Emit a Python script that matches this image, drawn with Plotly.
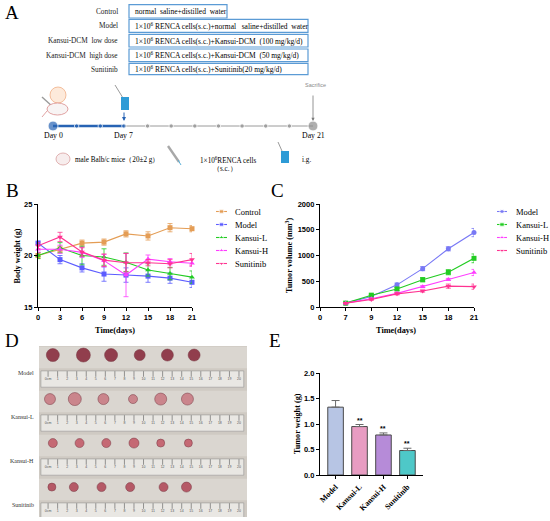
import plotly.graph_objects as go

W, H = 550, 521
SERIF = "Liberation Serif"
SANS = "Liberation Sans"

# ---------- panel A: groups and timeline
a_groups = ["Control", "Model", "Kansui-DCM  low dose", "Kansui-DCM  high dose", "Sunitinib"]
a_treat = [
    "normal  saline+distilled  water",
    "1×10<sup>6</sup> RENCA cells(s.c.)+normal \u00a0 saline+distilled  water",
    "1×10<sup>6</sup> RENCA cells(s.c.)+Kansui-DCM  (100 mg/kg/d)",
    "1×10<sup>6</sup> RENCA cells(s.c.)+Kansui-DCM  (50 mg/kg/d)",
    "1×10<sup>6</sup> RENCA cells(s.c.)+Sunitinib(20 mg/kg/d)",
]
tl_steps = list(range(12))
tl_day_labels = {0: "Day 0", 3: "Day 7", 11: "Day 21"}

# ---------- panel B: body weight (g)
b_days = [0, 3, 6, 9, 12, 15, 18, 21]
b_names = ["Control", "Model", "Kansui-L", "Kansui-H", "Sunitinib"]
b_control = [20.0, 20.6, 21.2, 21.3, 22.1, 21.9, 22.7, 22.6]
b_control_sd = [0.3, 0.3, 0.3, 0.3, 0.3, 0.4, 0.4, 0.3]
b_model = [21.2, 19.6, 18.8, 18.2, 18.1, 18.0, 17.8, 17.4]
b_model_sd = [0.2, 0.4, 0.4, 0.7, 0.7, 0.6, 0.5, 0.5]
b_kl = [20.0, 20.75, 20.0, 19.85, 19.35, 18.6, 18.25, 17.9]
b_kl_sd = [0.3, 0.5, 0.9, 0.8, 0.9, 0.6, 0.6, 0.6]
b_kh = [20.6, 20.6, 20.3, 19.5, 18.1, 19.65, 19.4, 19.25]
b_kh_sd = [0.3, 0.4, 0.5, 0.6, 2.1, 0.4, 0.3, 0.3]
b_sun = [20.95, 21.8, 20.35, 19.55, 19.3, 19.3, 19.2, 19.6]
b_sun_sd = [0.3, 0.45, 0.4, 0.6, 0.9, 0.3, 0.4, 0.6]

# ---------- panel C: tumor volume (mm3)
c_ticks = ["0", "7", "9", "12", "15", "18", "21"]
c_days = ["7", "9", "12", "15", "18", "21"]
c_names = ["Model", "Kansui-L", "Kansui-H", "Sunitinib"]
c_model = [75, 205, 430, 745, 1130, 1445]
c_model_sd = [10, 20, 35, 40, 40, 80]
c_kl = [75, 230, 350, 530, 675, 945]
c_kl_sd = [10, 20, 30, 40, 50, 85]
c_kh = [75, 160, 265, 395, 535, 670]
c_kh_sd = [10, 15, 20, 20, 20, 60]
c_sun = [75, 145, 255, 310, 405, 395]
c_sun_sd = [10, 15, 20, 20, 40, 50]

# ---------- panel D: tumour photo (positions along the ruler, cm)
d_rows = ["Model", "Kansui-L", "Kansui-H", "Sunitinib"]
d_tumor_cm = [
    [0.5, 3.7, 6.6, 9.6, 12.5, 15.3],
    [0.2, 2.8, 5.8, 8.9, 11.8, 14.6],
    [0.5, 3.3, 6.1, 9.0, 11.8, 14.7],
    [0.4, 2.7, 5.6, 8.6, 12.1, 14.5],
]
d_tumor_size = [
    [13, 14, 13, 11, 12, 12],
    [11, 13, 11, 9, 12, 12],
    [9, 9, 9, 10, 8, 8],
    [8, 9, 9, 9, 9, 10],
]
d_tumor_color = ["#8b3242", "#c97f87", "#c4606d", "#b24f5e"]
d_ruler_cm = list(range(21))

# ---------- panel E: tumor weight (g)
e_groups = ["Model", "Kansui-L", "Kansui-H", "Sunitinib"]
e_weight = [1.33, 0.95, 0.785, 0.48]
e_sd = [0.13, 0.04, 0.04, 0.045]
e_sig = ["", "**", "**", "**"]
e_colors = ["#b7c5e4", "#e89cc2", "#b68bd8", "#4ec8c8"]

b_colors = ["#e49d55", "#5c5cff", "#22cc22", "#ff3cff", "#ff3391"]
b_symbols = ["square", "square", "triangle-up", "triangle-up", "triangle-down"]
c_colors = ["#7878f5", "#22cc22", "#ff3cff", "#ff3391"]
c_symbols = ["circle", "square", "triangle-up", "triangle-down"]


def px_x(x):
    return x / W


def px_y(y):
    return 1 - y / H


fig = go.Figure()

# panel B traces
b_vals = [b_control, b_model, b_kl, b_kh, b_sun]
b_sds = [b_control_sd, b_model_sd, b_kl_sd, b_kh_sd, b_sun_sd]
for name, vals, sd, col, sym in zip(b_names, b_vals, b_sds, b_colors, b_symbols):
    fig.add_trace(go.Scatter(
        x=b_days, y=vals, mode="lines+markers", name=name, cliponaxis=False,
        line=dict(color=col, width=1.1), marker=dict(color=col, size=5, symbol=sym),
        error_y=dict(type="data", array=sd, color=col, thickness=0.8, width=2.5),
        xaxis="x", yaxis="y", showlegend=False))

# panel C traces
c_x = [c_ticks.index(d) for d in c_days]
c_vals = [c_model, c_kl, c_kh, c_sun]
c_sds = [c_model_sd, c_kl_sd, c_kh_sd, c_sun_sd]
for name, vals, sd, col, sym in zip(c_names, c_vals, c_sds, c_colors, c_symbols):
    fig.add_trace(go.Scatter(
        x=c_x, y=vals, mode="lines+markers", name=name, cliponaxis=False,
        line=dict(color=col, width=1.1), marker=dict(color=col, size=5, symbol=sym),
        error_y=dict(type="data", array=sd, color=col, thickness=0.8, width=2.5),
        xaxis="x2", yaxis="y2", showlegend=False))

# panel E bars
fig.add_trace(go.Bar(
    x=e_groups, y=e_weight, width=0.65,
    marker=dict(color=e_colors, line=dict(color="#4a4a4a", width=1)),
    error_y=dict(type="data", symmetric=False, array=e_sd, arrayminus=[0] * len(e_sd),
                 color="#6a6a6a", thickness=1, width=4),
    xaxis="x3", yaxis="y3", showlegend=False))

# panel D tumours and ruler ticks
for r, row in enumerate(d_rows):
    fig.add_trace(go.Scatter(
        x=d_tumor_cm[r], y=[r] * len(d_tumor_cm[r]), mode="markers",
        marker=dict(color=d_tumor_color[r], size=d_tumor_size[r], opacity=0.92,
                    line=dict(color="#6e2a36", width=0.5)),
        xaxis="x6", yaxis="y6", showlegend=False, hoverinfo="skip"))
    fig.add_trace(go.Scatter(
        x=d_ruler_cm, y=[r + 0.43] * len(d_ruler_cm), mode="markers+text",
        marker=dict(symbol="line-ns", size=4, line=dict(color="#555", width=0.6)),
        text=[str(c) if c else "0cm" for c in d_ruler_cm], textposition="bottom center",
        textfont=dict(family=SANS, size=3.5, color="#555"),
        xaxis="x6", yaxis="y6", showlegend=False, hoverinfo="skip"))

# panel A timeline
fig.add_trace(go.Scatter(x=tl_steps[:4], y=[0] * 4, mode="lines", line=dict(color="#2763b4", width=2.6),
                         xaxis="x5", yaxis="y5", showlegend=False))
fig.add_trace(go.Scatter(x=tl_steps[3:], y=[0] * 9, mode="lines", line=dict(color="#9a9a9a", width=1),
                         xaxis="x5", yaxis="y5", showlegend=False))
fig.add_trace(go.Scatter(
    x=tl_steps, y=[0] * len(tl_steps), mode="markers", cliponaxis=False,
    marker=dict(color=["#2763b4" if s <= 3 else "#8c8c8c" for s in tl_steps],
                size=[10 if s in (0, 11) else 4.5 for s in tl_steps]),
    xaxis="x5", yaxis="y5", showlegend=False))

# legends (drawn in pixel space)
b_leg_y = [211.5, 224.5, 237.5, 250.5, 263.5]
for name, col, sym, yy in zip(b_names, b_colors, b_symbols, b_leg_y):
    fig.add_trace(go.Scatter(x=[216, 221.5, 227], y=[yy] * 3, mode="lines+markers",
                             line=dict(color=col, width=1.1),
                             marker=dict(color=col, size=[0, 4.5, 0], symbol=sym),
                             xaxis="x4", yaxis="y4", showlegend=False))
c_leg_y = [211.5, 224.5, 237.5, 250.5]
for name, col, sym, yy in zip(c_names, c_colors, c_symbols, c_leg_y):
    fig.add_trace(go.Scatter(x=[497, 502, 507], y=[yy] * 3, mode="lines+markers",
                             line=dict(color=col, width=1.1),
                             marker=dict(color=col, size=[0, 4.5, 0], symbol=sym),
                             xaxis="x4", yaxis="y4", showlegend=False))

annotations = []
shapes = []


def ann(x, y, text, size=8, family=SERIF, color="black", xanchor="center", yanchor="middle",
        angle=0, weight="normal", xref="x4", yref="y4", **kw):
    annotations.append(dict(x=x, y=y, text=text, xref=xref, yref=yref, showarrow=False,
                            xanchor=xanchor, yanchor=yanchor, textangle=angle,
                            font=dict(family=family, size=size, color=color, weight=weight), **kw))


# panel letters
for letter, x, y in [("A", 12, 12), ("B", 12, 190), ("C", 277, 190), ("D", 12, 340), ("E", 275, 340)]:
    ann(x, y, letter, size=19)

# treatment table
box_top = [4.7, 19.3, 34.3, 49.0, 63.3]
box_bot = [18.0, 32.3, 47.0, 61.7, 74.7]
box_right = [227, 308, 308, 308, 308]
for g, t, y0, y1, xr in zip(a_groups, a_treat, box_top, box_bot, box_right):
    shapes.append(dict(type="rect", xref="x4", yref="y4", x0=129, x1=xr, y0=y0, y1=y1,
                       line=dict(color="#5b9bd5", width=1.2)))
    ann(120, (y0 + y1) / 2, g, size=7.3, xanchor="right", color="#222")
    ann(132.5, (y0 + y1) / 2, t, size=7.5, xanchor="left")

# timeline labels and icons
for s, lab in tl_day_labels.items():
    ann(s, 0, lab, size=7.8, xref="x5", yref="y5", yshift=-9)
ann(315, 85, "Sacrifice", size=5.5, family=SANS, color="#8a8a8a")
annotations.append(dict(x=313, y=121, ax=313, ay=94, xref="x4", yref="y4", axref="x4", ayref="y4",
                        showarrow=True, arrowhead=2, arrowsize=0.8, arrowwidth=0.8, arrowcolor="#7a7a7a", text=""))
annotations.append(dict(x=124, y=121, ax=124, ay=111, xref="x4", yref="y4", axref="x4", ayref="y4",
                        showarrow=True, arrowhead=2, arrowsize=0.8, arrowwidth=1, arrowcolor="#2763b4", text=""))

shapes += [
    # cell dish, syringe and mouse at day 0
    dict(type="circle", xref="x4", yref="y4", x0=50, x1=66, y0=87, y1=103,
         fillcolor="#fdeadb", line=dict(color="#f0b088", width=0.8)),
    dict(type="line", xref="x4", yref="y4", x0=42, x1=53, y0=97, y1=107, line=dict(color="#9a9a9a", width=1.4)),
    dict(type="circle", xref="x4", yref="y4", x0=47, x1=68, y0=103, y1=115,
         fillcolor="#f8f4f4", line=dict(color="#d98c8c", width=0.8)),
    dict(type="line", xref="x4", yref="y4", x0=47, x1=42, y0=111, y1=117, line=dict(color="#d98c8c", width=0.8)),
    # gavage at day 7
    dict(type="line", xref="x4", yref="y4", x0=115, x1=123, y0=85, y1=98, line=dict(color="#9a9a9a", width=1)),
    dict(type="rect", xref="x4", yref="y4", x0=121, x1=129, y0=97, y1=110,
         fillcolor="#2e9bd6", line=dict(width=0)),
    # bottom legend icons
    dict(type="circle", xref="x4", yref="y4", x0=56, x1=70, y0=153, y1=165,
         fillcolor="#f7eded", line=dict(color="#d9a0a0", width=0.8)),
    dict(type="line", xref="x4", yref="y4", x0=168, x1=179, y0=146, y1=162, line=dict(color="#a8a8a8", width=2.4)),
    dict(type="line", xref="x4", yref="y4", x0=178, x1=181, y0=160, y1=165, line=dict(color="#5ab0d8", width=1)),
    dict(type="line", xref="x4", yref="y4", x0=278, x1=282, y0=142, y1=151, line=dict(color="#9a9a9a", width=1)),
    dict(type="rect", xref="x4", yref="y4", x0=281, x1=289, y0=151, y1=163,
         fillcolor="#2e9bd6", line=dict(width=0)),
]
ann(73, 160, "male Balb/c mice（20±2 g）", size=7.2, xanchor="left")
ann(228, 160, "1×10<sup>6</sup>RENCA cells", size=7.2)
ann(225, 169, "（s.c.）", size=7.2)
ann(300, 160, "i.g.", size=7.2, xanchor="left")

# legends text
for name, yy in zip(b_names, b_leg_y):
    ann(233, yy, name, size=8.5, xanchor="left")
for name, yy in zip(c_names, c_leg_y):
    ann(514, yy, name, size=8.5, xanchor="left")

# axis titles
ann(16.5, 256, "Body weight (g)", size=8.2, angle=-90, weight="bold")
ann(115, 330, "Time(days)", size=8.3, weight="bold")
ann(289, 256, "Tumor volume (mm<sup>3</sup>)", size=8.2, angle=-90, weight="bold")
ann(396, 330, "Time(days)", size=8.3, weight="bold")
ann(297, 424, "Tumor weight (g)", size=8.2, angle=-90, weight="bold")

# significance marks
for g, v, sd, s in zip(e_groups, e_weight, e_sd, e_sig):
    if s:
        annotations.append(dict(x=g, y=v + sd, xref="x3", yref="y3", text=s, showarrow=False,
                                yanchor="bottom", yshift=-1,
                                font=dict(family=SANS, size=7, color="black", weight="bold")))

# panel D photo background, rulers and row labels
shapes.append(dict(type="rect", xref="x6", yref="y6", x0=-0.95, x1=20.84, y0=-0.206, y1=3.68,
                   fillcolor="#cfcac3", line=dict(width=0), layer="below"))
for r, row in enumerate(d_rows):
    shapes.append(dict(type="rect", xref="x6", yref="y6", x0=-0.95, x1=20.84, y0=r - 0.19, y1=r + 0.3,
                       fillcolor="#dad6d0", line=dict(width=0), layer="below"))
    shapes.append(dict(type="rect", xref="x6", yref="y6", x0=-0.75, x1=20.5, y0=r + 0.36, y1=r + 0.73,
                       fillcolor="#e9e7e3", line=dict(color="#8a8a8a", width=0.5), layer="below"))
    annotations.append(dict(x=36, y=r + 0.4, xref="x4", yref="y6", text=row, showarrow=False,
                            xanchor="right", yanchor="middle",
                            font=dict(family=SERIF, size=6, color="#333")))


def axis_style(**kw):
    d = dict(showline=True, linecolor="black", linewidth=1.3, ticks="outside", ticklen=3, tickwidth=1.3,
             tickcolor="black", showgrid=False, zeroline=False, automargin=False, fixedrange=True,
             tickfont=dict(family=SANS, size=7.5, color="black", weight="bold"))
    d.update(kw)
    return d


hidden = dict(visible=False, showgrid=False, zeroline=False, fixedrange=True)

fig.update_layout(
    width=W, height=H, margin=dict(l=0, r=0, t=0, b=0),
    paper_bgcolor="white", plot_bgcolor="rgba(0,0,0,0)", showlegend=False,
    # B
    xaxis=axis_style(domain=[px_x(38), px_x(192)], range=[0, 21], tickvals=b_days, anchor="y"),
    yaxis=axis_style(domain=[px_y(307), px_y(204)], range=[15, 25], tickvals=[15, 20, 25], anchor="x"),
    # C
    xaxis2=axis_style(domain=[px_x(320), px_x(474)], range=[0, 6], tickvals=list(range(len(c_ticks))),
                      ticktext=c_ticks, anchor="y2"),
    yaxis2=axis_style(domain=[px_y(307), px_y(204)], range=[0, 2000], dtick=500, anchor="x2"),
    # E
    xaxis3=axis_style(domain=[px_x(320), px_x(423)], range=[-0.65, 3.65], type="category", anchor="y3",
                      tickangle=-45, tickfont=dict(family=SERIF, size=8, color="black", weight="bold")),
    yaxis3=axis_style(domain=[px_y(475), px_y(373)], range=[0, 2], dtick=0.5, tickformat=".1f", anchor="x3"),
    # pixel overlay
    xaxis4=dict(hidden, domain=[0, 1], range=[0, W], anchor="y4"),
    yaxis4=dict(hidden, domain=[0, 1], range=[H, 0], anchor="x4"),
    # timeline
    xaxis5=dict(hidden, domain=[px_x(53), px_x(313)], range=[0, 11], anchor="y5"),
    yaxis5=dict(hidden, domain=[px_y(136), px_y(116)], range=[-1, 1], anchor="x5"),
    # photo
    xaxis6=dict(hidden, domain=[px_x(39), px_x(247)], range=[-0.95, 20.84], anchor="y6"),
    yaxis6=dict(hidden, domain=[px_y(517), px_y(346)], range=[3.68, -0.206], anchor="x6"),
    annotations=annotations, shapes=shapes,
)

fig.write_html("out.html", config={"displayModeBar": False},
               post_script="document.body.style.margin='0';document.body.style.overflow='hidden';")
